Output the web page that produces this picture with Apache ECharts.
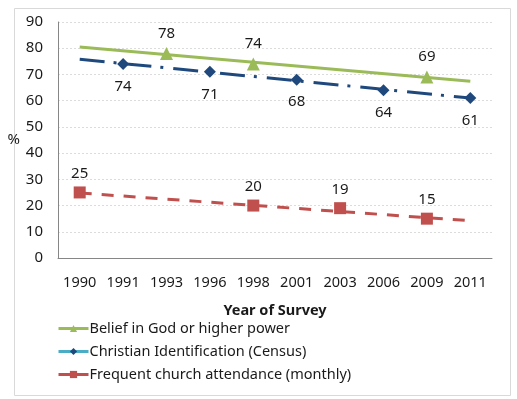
<!DOCTYPE html>
<html>
<head>
<meta charset="utf-8">
<script src="https://cdn.jsdelivr.net/npm/echarts@6/dist/echarts.min.js"></script>
<style>
  html, body { margin: 0; padding: 0; background: #fff; }
  #chart { width: 517px; height: 399px; }
</style>
</head>
<body>
<div id="chart"></div>
<script>
const years = ['1990', '1991', '1993', '1996', '1998', '2001', '2003', '2006', '2009', '2011']

// survey points (null = no survey that year)
const belief = [null, null, 78, null, 74, null, null, null, 69, null]
const christian = [null, 74, null, 71, null, 68, null, 64, null, 61]
const church = [25, null, null, null, 20, null, 19, null, 15, null]

// trend line ends (1990, 2011)
const beliefTrend = [80.5, 67.4]
const christianTrend = [75.8, 61]
const churchTrend = [24.8, 14.2]

const names = [
  'Belief in God or higher power',
  'Christian Identification (Census)',
  'Frequent church attendance (monthly)'
]

const green = '#9BBB59'
const navy = '#1F497D'
const red = '#C0504D'
const font = 'Noto Sans'

function trendData(ends) {
  const arr = years.map(() => null)
  arr[0] = ends[0]
  arr[years.length - 1] = ends[1]
  return arr
}

function markers(name, data, color, symbol, size, pos, dist) {
  return {
    name: name,
    type: 'line',
    data: data,
    symbol: symbol,
    symbolSize: size,
    itemStyle: {color: color},
    lineStyle: {width: 0, opacity: 0},
    z: 3,
    label: {
      show: true,
      position: pos,
      distance: dist,
      color: '#1a1a1a',
      fontFamily: font,
      fontSize: 15
    }
  }
}

function trend(data, color, type) {
  return {
    type: 'line',
    data: trendData(data),
    connectNulls: true,
    showSymbol: false,
    symbol: 'none',
    silent: true,
    lineStyle: {color: color, width: 3, type: type},
    z: 2
  }
}

const chart = echarts.init(document.getElementById('chart'))

const option = {
  animation: false,
  textStyle: {fontFamily: font},
  graphic: [{
    type: 'rect',
    left: 12,
    top: 6,
    shape: {width: 496, height: 387},
    style: {fill: 'none', stroke: '#d9d9d9', lineWidth: 1}
  }],
  grid: {left: 58, right: 25, top: 22, bottom: 141},
  legend: {
    orient: 'vertical',
    left: 52,
    top: 316,
    itemWidth: 30,
    itemHeight: 9,
    itemGap: 8,
    textStyle: {fontFamily: font, fontSize: 14.5, color: '#1a1a1a', padding: [0, 0, 0, -4]},
    data: [
      {name: names[0], lineStyle: {color: green, width: 3, opacity: 1, type: 'solid'}},
      {name: names[1], lineStyle: {color: '#4BACC6', width: 3, opacity: 1, type: 'solid'}},
      {name: names[2], lineStyle: {color: red, width: 3, opacity: 1, type: 'solid'}}
    ]
  },
  xAxis: {
    type: 'category',
    data: years,
    boundaryGap: true,
    name: 'Year of Survey',
    nameLocation: 'middle',
    nameGap: 45,
    nameTextStyle: {fontFamily: font, fontSize: 14.5, fontWeight: 'bold', color: '#1a1a1a'},
    axisLine: {lineStyle: {color: '#868686', width: 1}},
    axisTick: {show: false},
    axisLabel: {interval: 0, margin: 17, fontSize: 14.5, color: '#1a1a1a', fontFamily: font}
  },
  yAxis: {
    type: 'value',
    min: 0,
    max: 90,
    interval: 10,
    name: '%',
    nameLocation: 'middle',
    nameRotate: 0,
    nameGap: 38,
    nameTextStyle: {fontFamily: font, fontSize: 15, color: '#1a1a1a'},
    axisLine: {show: true, lineStyle: {color: '#868686', width: 1}},
    axisTick: {show: false},
    axisLabel: {margin: 15, fontSize: 15, color: '#1a1a1a', fontFamily: font},
    splitLine: {lineStyle: {color: '#dcdcdc', type: [2, 2]}}
  },
  series: [
    trend(beliefTrend, green, 'solid'),
    trend(christianTrend, navy, [25, 9, 3, 10]),
    trend(churchTrend, red, [12, 10]),
    markers(names[0], belief, green, 'triangle', 13, 'top', 6),
    markers(names[1], christian, navy, 'diamond', 12, 'bottom', 9),
    markers(names[2], church, red, 'rect', 12, 'top', 5)
  ]
}

option && chart.setOption(option)
</script>
</body>
</html>
